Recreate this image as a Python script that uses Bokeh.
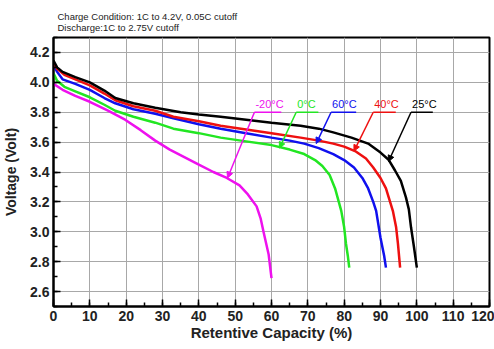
from bokeh.plotting import figure
from bokeh.models import (FixedTicker, PrintfTickFormatter, Label, Arrow, NormalHead,
                          ColumnDataSource, Title)
from bokeh.embed import file_html
from bokeh.resources import INLINE

# ---------------- data ----------------
x_25 = [0, 1, 2.5, 6, 10, 14, 17, 22, 28, 35, 40, 46, 53, 60, 68, 73, 77, 82, 86.6, 90, 92.3, 94,
        95.6, 97, 97.8, 98.4, 99.2, 100]
y_25 = [4.145, 4.10, 4.07, 4.035, 4.0, 3.945, 3.895, 3.86, 3.83, 3.80, 3.785, 3.77, 3.75, 3.73, 3.71,
        3.69, 3.665, 3.63, 3.59, 3.53, 3.48, 3.41, 3.34, 3.23, 3.15, 3.03, 2.90, 2.76]

x_40 = [0, 1, 3, 6, 10, 14, 17, 22, 28, 33, 40, 46, 53, 60, 68, 73, 77, 80, 83, 86, 88, 90, 91.5,
        93.4, 94.3, 94.8, 95.4]
y_40 = [4.13, 4.09, 4.05, 4.02, 3.98, 3.925, 3.88, 3.84, 3.81, 3.77, 3.74, 3.71, 3.685, 3.66, 3.63,
        3.61, 3.59, 3.57, 3.54, 3.49, 3.43, 3.36, 3.29, 3.14, 3.03, 2.92, 2.76]

x_60 = [0, 1, 2.5, 6, 10, 14, 17, 22, 28, 33, 40, 46, 53, 60, 65, 69, 73, 77, 80, 82.7, 85, 86.6,
        88, 88.8, 90, 91, 91.5]
y_60 = [4.12, 4.07, 4.02, 3.99, 3.95, 3.895, 3.86, 3.82, 3.79, 3.76, 3.72, 3.69, 3.66, 3.63, 3.61,
        3.59, 3.56, 3.52, 3.48, 3.43, 3.36, 3.29, 3.20, 3.14, 2.96, 2.84, 2.76]

x_0 = [0, 1, 3, 6, 10, 14, 17, 22, 28, 33, 40, 46, 53, 60, 65, 69, 72, 74, 76, 77.5, 79.2, 80,
       80.5, 81, 81.4]
y_0 = [4.06, 4.01, 3.97, 3.94, 3.90, 3.85, 3.81, 3.77, 3.73, 3.69, 3.66, 3.63, 3.605, 3.58, 3.55,
       3.52, 3.48, 3.44, 3.38, 3.29, 3.14, 3.03, 2.92, 2.84, 2.76]

x_m20 = [0, 2.5, 6, 10, 15, 19.7, 24, 28, 32, 36, 40, 44, 47.7, 51.2, 53.5, 55.9, 57, 57.8, 59.2,
         59.6, 60]
y_m20 = [3.99, 3.95, 3.91, 3.87, 3.81, 3.75, 3.68, 3.61, 3.55, 3.50, 3.45, 3.40, 3.36, 3.31, 3.25,
         3.17, 3.09, 3.00, 2.85, 2.77, 2.69]

series_names = ["-20°C", "0°C", "60°C", "40°C", "25°C"]
series_colors = ["#ee11ee", "#22e622", "#1010ee", "#ee1010", "#000000"]
series_x = [x_m20, x_0, x_60, x_40, x_25]
series_y = [y_m20, y_0, y_60, y_40, y_25]

# label positions (underline start/end and arrow tip)
label_u0 = [55.3, 66.8, 76.4, 88.0, 98.4]
label_u1 = [62.7, 72.9, 83.3, 94.2, 104.4]
label_uy = [3.80, 3.80, 3.80, 3.80, 3.80]
tip_x = [47.9, 62.2, 72.3, 82.7, 92.2]
tip_y = [3.36, 3.56, 3.59, 3.54, 3.47]

x_ticks = list(range(0, 121, 10))
x_minor = list(range(0, 121, 5))
y_ticks = [2.6, 2.8, 3.0, 3.2, 3.4, 3.6, 3.8, 4.0, 4.2]
y_minor = [2.5, 2.6, 2.7, 2.8, 2.9, 3.0, 3.1, 3.2, 3.3, 3.4, 3.5, 3.6, 3.7, 3.8, 3.9, 4.0, 4.1,
           4.2, 4.3]

title_lines = ["Charge Condition: 1C to 4.2V, 0.05C cutoff", "Discharge:1C to 2.75V cutoff"]

FONT = "Liberation Sans"

p = figure(width=494, height=349, x_range=(0, 120), y_range=(2.5, 4.3),
           output_backend="svg", toolbar_location=None,
           min_border_left=51, min_border_right=5, min_border_top=37, min_border_bottom=43)
p.background_fill_color = "white"
p.border_fill_color = "white"
p.outline_line_color = "black"
p.outline_line_width = 2

p.xaxis.ticker = FixedTicker(ticks=x_ticks, minor_ticks=x_minor)
p.yaxis.ticker = FixedTicker(ticks=y_ticks, minor_ticks=y_minor)
p.yaxis.formatter = PrintfTickFormatter(format="%.1f")
p.xgrid.ticker = FixedTicker(ticks=x_ticks)
p.ygrid.ticker = FixedTicker(ticks=y_ticks)
for g in (p.xgrid, p.ygrid):
    g.grid_line_color = "#a8a8a8"
    g.grid_line_width = 1

for ax in (p.xaxis, p.yaxis):
    ax.axis_line_color = "black"
    ax.axis_line_width = 2
    ax.major_tick_in = 7
    ax.major_tick_out = 0
    ax.minor_tick_in = 4
    ax.minor_tick_out = 0
    ax.major_tick_line_color = "black"
    ax.major_tick_line_width = 1.5
    ax.minor_tick_line_color = "black"
    ax.minor_tick_line_width = 1.5
    ax.major_label_text_font = FONT
    ax.major_label_text_font_style = "bold"
    ax.major_label_text_font_size = "14px"
    ax.major_label_text_color = "#222222"
    ax.axis_label_text_font = FONT
    ax.axis_label_text_font_style = "bold"
    ax.axis_label_text_color = "#222222"

p.xaxis.axis_label = "Retentive Capacity (%)"
p.xaxis.axis_label_text_font_size = "15px"
p.xaxis.major_label_standoff = 4
p.xaxis.axis_label_standoff = 0
p.yaxis.axis_label = "Voltage (Volt)"
p.yaxis.axis_label_text_font_size = "14px"
p.yaxis.major_label_standoff = 4
p.yaxis.axis_label_standoff = 8

for xs, ys, c in zip(series_x, series_y, series_colors):
    p.line(xs, ys, line_color=c, line_width=2.5)

seg = ColumnDataSource(dict(x0=label_u0, x1=label_u1, y=label_uy, c=series_colors))
p.segment(x0="x0", y0="y", x1="x1", y1="y", color="c", line_width=1.5, source=seg)

for name, c, u0, uy, tx, ty in zip(series_names, series_colors, label_u0, label_uy, tip_x, tip_y):
    p.add_layout(Arrow(end=NormalHead(size=6, fill_color=c, line_color=c, line_width=1),
                       x_start=u0, y_start=uy, x_end=tx, y_end=ty,
                       line_color=c, line_width=1.5))
    p.add_layout(Label(x=u0, y=uy, x_offset=1, y_offset=2, text=name, text_color=c,
                       text_font=FONT, text_font_size="11px", text_baseline="bottom"))

p.add_layout(Title(text="\n".join(title_lines), align="left", offset=4, standoff=10,
                   text_color="#222222", text_font=FONT, text_font_size="9.5px",
                   text_font_style="normal", text_line_height=1.0),
             "above")

open("out.html", "w").write(file_html(p, INLINE))
